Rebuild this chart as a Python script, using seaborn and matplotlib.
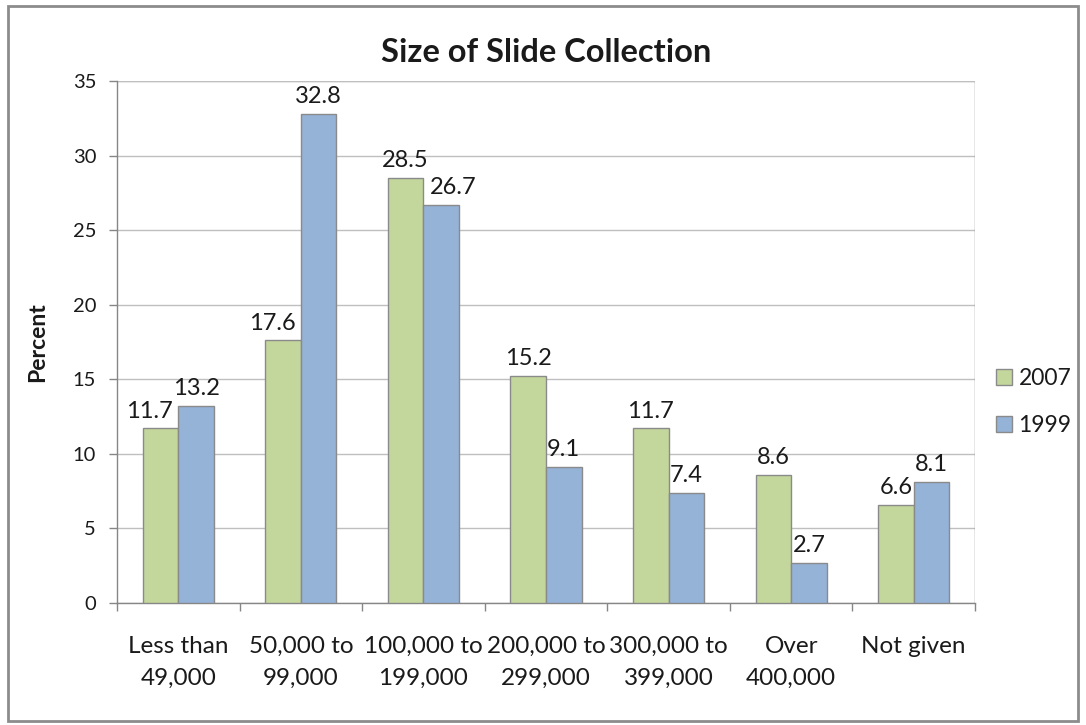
import matplotlib
matplotlib.use("Agg")
import matplotlib.pyplot as plt
import seaborn as sns
import pandas as pd
from matplotlib.patches import Rectangle

categories = ["Less than\n49,000", "50,000 to\n99,000", "100,000 to\n199,000",
              "200,000 to\n299,000", "300,000 to\n399,000", "Over\n400,000", "Not given"]
values_2007 = [11.7, 17.6, 28.5, 15.2, 11.7, 8.6, 6.6]
values_1999 = [13.2, 32.8, 26.7, 9.1, 7.4, 2.7, 8.1]
years = ["2007", "1999"]
y_ticks = [0, 5, 10, 15, 20, 25, 30, 35]

sns.set_theme(style="white")
plt.rcParams["font.family"] = ["Lato", "DejaVu Sans"]

df = pd.DataFrame({
    "category": categories * 2,
    "year": [years[0]] * len(categories) + [years[1]] * len(categories),
    "percent": values_2007 + values_1999,
})

fig = plt.figure(figsize=(10.86, 7.25), dpi=100)
ax = fig.add_axes([0.1077, 0.1683, 0.7901, 0.72])

palette = {"2007": "#C3D69B", "1999": "#95B3D7"}
sns.barplot(data=df, x="category", y="percent", hue="year", hue_order=years,
            palette=palette, width=0.58, edgecolor="#8A8A8A", linewidth=1.0,
            saturation=1, ax=ax, zorder=3)

# value labels; a wide label is moved away from a taller neighbouring bar
bars_new, bars_old = ax.containers[0], ax.containers[1]
label_kw = dict(fontsize=17, color="#1a1a1a", textcoords="offset points", va="bottom")
for b_new, b_old in zip(bars_new, bars_old):
    h_new, h_old = b_new.get_height(), b_old.get_height()
    t_new, t_old = f"{h_new:.1f}", f"{h_old:.1f}"
    if h_old > h_new and len(t_new) > 3:
        ax.annotate(t_new, (b_new.get_x() + b_new.get_width(), h_new),
                    xytext=(-4, 5), ha="right", **label_kw)
    else:
        ax.annotate(t_new, (b_new.get_x() + b_new.get_width() / 2, h_new),
                    xytext=(0, 5), ha="center", **label_kw)
    if h_new > h_old and len(t_old) > 3:
        ax.annotate(t_old, (b_old.get_x(), h_old),
                    xytext=(5, 5), ha="left", **label_kw)
    else:
        ax.annotate(t_old, (b_old.get_x() + b_old.get_width() / 2, h_old),
                    xytext=(0, 5), ha="center", **label_kw)

ax.set_ylim(0, 35)
ax.set_xlim(-0.5, len(categories) - 0.5)
ax.set_yticks(y_ticks)
ax.yaxis.grid(True, color="#BFBFBF", linewidth=1.0, zorder=0)
ax.set_axisbelow(True)

# category boundary ticks on the x axis
ax.set_xticks([i - 0.5 for i in range(len(categories) + 1)], minor=True)
ax.tick_params(axis="x", which="major", length=0, pad=24, labelsize=17.5, bottom=False)
ax.tick_params(axis="x", which="minor", length=6, color="#868686", width=1, bottom=True)
ax.tick_params(axis="y", length=6, color="#868686", width=1, labelsize=14.5, pad=9, left=True)
ax.set_xticklabels(categories, linespacing=1.6, color="#1a1a1a")
for t in ax.get_yticklabels():
    t.set_color("#1a1a1a")

for side in ["top", "right"]:
    ax.spines[side].set_visible(False)
for side in ["left", "bottom"]:
    ax.spines[side].set_color("#868686")
    ax.spines[side].set_linewidth(1.0)

ax.set_xlabel("")
ax.set_ylabel("Percent", fontsize=16.5, fontweight="bold", labelpad=18, color="#1a1a1a")
ax.set_title("Size of Slide Collection", fontsize=23.5, fontweight="bold", pad=14, color="#1a1a1a")

# right plot edge and top gridline
ax.axvline(len(categories) - 0.5, color="#868686", linewidth=1.0, zorder=1)
ax.axhline(35, color="#BFBFBF", linewidth=1.0, zorder=1)

leg = ax.legend(loc="center left", bbox_to_anchor=(1.0, 0.385), frameon=False,
                fontsize=16.5, handlelength=0.7, handleheight=0.7, handletextpad=0.3,
                labelspacing=1.15)
for t in leg.get_texts():
    t.set_color("#1a1a1a")

fig.patches.append(Rectangle((0.0075, 0.005), 0.985, 0.987, transform=fig.transFigure,
                             fill=False, edgecolor="#8C8C8C", linewidth=2.0))

fig.savefig("out.png", dpi=100)
